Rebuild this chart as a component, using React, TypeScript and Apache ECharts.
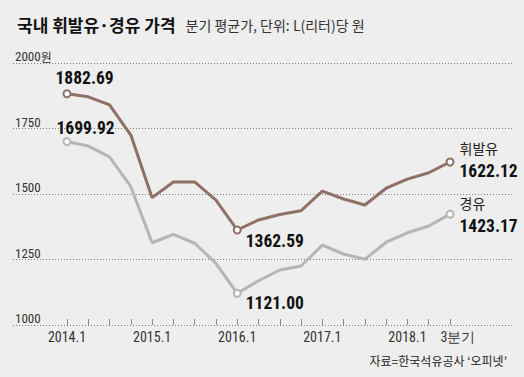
import React, { useEffect, useRef } from "react";
import * as echarts from "echarts";

const quarters = [
  "2014.1", "", "", "",
  "2015.1", "", "", "",
  "2016.1", "", "", "",
  "2017.1", "", "", "",
  "2018.1", "", "3분기",
];
const gasoline = [
  1882.69, 1871, 1840, 1725,
  1486, 1546, 1546, 1477,
  1362.59, 1401, 1422, 1436,
  1511, 1481, 1458, 1522,
  1557, 1581, 1622.12,
];
const diesel = [
  1699.92, 1683, 1642, 1528,
  1314, 1346, 1312, 1235,
  1121.0, 1169, 1210, 1225,
  1305, 1271, 1251, 1316,
  1352, 1378, 1423.17,
];
const yTicks = [1000, 1250, 1500, 1750, 2000];
const seriesNames = ["휘발유", "경유"];

const NUM = "'Liberation Sans Narrow', 'Arial Narrow', 'Roboto Condensed', Roboto, sans-serif";
const KR = "'Noto Sans CJK KR', 'Noto Sans', sans-serif";

const BROWN = "#8d7166";
const GRAY = "#b5b5b5";

function buildData(values: number[], name: string, labelCfg: Record<number, any>) {
  const last = values.length - 1;
  return values.map((v, i) => {
    if (i === 0 || i === last || labelCfg[i]) {
      const isLast = i === last;
      const cfg = labelCfg[i] || {};
      return {
        value: v,
        symbol: "emptyCircle",
        symbolSize: 7,
        label: isLast
          ? {
              show: true,
              position: "right",
              distance: 5,
              offset: cfg.offset || [0, 0],
              formatter: `{n|${name}}\n{v|${v.toFixed(2)}}`,
              rich: {
                n: { fontFamily: KR, fontSize: 14, fontWeight: "normal", color: "#222", lineHeight: 23 },
                v: { fontFamily: NUM, fontSize: 17.5, fontWeight: "bold", color: "#111", lineHeight: 23 },
              },
            }
          : {
              show: true,
              position: "right",
              distance: 0,
              offset: cfg.offset || [0, 0],
              formatter: v.toFixed(2),
              fontFamily: NUM,
              fontSize: 17.5,
              fontWeight: "bold",
              color: "#111",
            },
      };
    }
    return { value: v, symbol: "none" };
  });
}

export default function App() {
  const ref = useRef<HTMLDivElement>(null);

  useEffect(() => {
    if (!ref.current) return;
    const chart = echarts.init(ref.current, null, { renderer: "svg" });

    const gasData = buildData(gasoline, seriesNames[0], {
      0: { offset: [-16, -16] },
      8: { offset: [4, 11] },
      18: { offset: [0, -3] },
    });
    const dieselData = buildData(diesel, seriesNames[1], {
      0: { offset: [-15, -14] },
      8: { offset: [4, 10] },
      18: { offset: [0, 0] },
    });

    const xData = quarters.map((q, i) =>
      i === quarters.length - 1
        ? { value: q, textStyle: { padding: [0, 0, 0, 16] } }
        : q
    );

    chart.setOption({
      animation: false,
      backgroundColor: "#eeeeee",
      title: [
        {
          left: 12,
          top: 11,
          text: "{a|국내 휘발유·경유 가격}{b|분기 평균가, 단위: L(리터)당 원}",
          textStyle: {
            fontWeight: "normal",
            rich: {
              a: { fontFamily: KR, fontSize: 17, fontWeight: "bold", color: "#111" },
              b: { fontFamily: KR, fontSize: 14, fontWeight: "normal", color: "#333", padding: [0, 0, 0, 10] },
            },
          },
        },
        {
          right: 12,
          top: 349,
          text: "자료=한국석유공사 ‘오피넷’",
          textStyle: { fontFamily: KR, fontSize: 12, fontWeight: "normal", color: "#222" },
        },
      ],
      grid: [
        { left: 13, right: 12, top: 63, bottom: 52 },
        { left: 67, right: 74, top: 63, bottom: 52 },
      ],
      xAxis: [
        { type: "value", gridIndex: 0, show: false, min: 0, max: 1 },
        {
          type: "category",
          gridIndex: 1,
          data: xData,
          boundaryGap: false,
          axisLine: { show: false },
          axisTick: {
            show: true,
            inside: true,
            length: 6,
            interval: 0,
            lineStyle: { color: "#8a8a8a", width: 1 },
          },
          axisLabel: {
            interval: 0,
            margin: 5,
            fontFamily: NUM,
            fontSize: 14,
            color: "#333",
          },
          splitLine: { show: false },
        },
      ],
      yAxis: [
        {
          type: "value",
          gridIndex: 0,
          min: yTicks[0],
          max: yTicks[yTicks.length - 1],
          interval: yTicks[1] - yTicks[0],
          axisLine: { show: false },
          axisTick: { show: false },
          axisLabel: {
            inside: true,
            margin: 2,
            align: "left",
            verticalAlign: "bottom",
            fontFamily: NUM,
            fontSize: 13,
            color: "#333",
            formatter: (v: number) => (v === 2000 ? `{n|${v}}{u|원}` : `{n|${v}}`),
            rich: {
              n: { fontFamily: NUM, fontSize: 13, color: "#333" },
              u: { fontFamily: KR, fontSize: 12, color: "#333" },
            },
          },
          splitLine: {
            show: true,
            lineStyle: { color: "#7a7a7a", width: 1, type: [1, 2] },
          },
        },
        {
          type: "value",
          gridIndex: 1,
          min: yTicks[0],
          max: yTicks[yTicks.length - 1],
          show: false,
          splitLine: { show: false },
        },
      ],
      series: [
        {
          name: seriesNames[1],
          type: "line",
          xAxisIndex: 1,
          yAxisIndex: 1,
          data: dieselData,
          symbol: "none",
          showSymbol: true,
          showAllSymbol: true,
          lineStyle: { color: GRAY, width: 3 },
          itemStyle: { color: GRAY, borderWidth: 1.5 },
          emphasis: { disabled: true },
          silent: true,
          z: 2,
        },
        {
          name: seriesNames[0],
          type: "line",
          xAxisIndex: 1,
          yAxisIndex: 1,
          data: gasData,
          symbol: "none",
          showSymbol: true,
          showAllSymbol: true,
          lineStyle: { color: BROWN, width: 3 },
          itemStyle: { color: BROWN, borderWidth: 1.5 },
          emphasis: { disabled: true },
          silent: true,
          z: 3,
        },
      ],
    });

    return () => chart.dispose();
  }, []);

  return (
    <div
      ref={ref}
      style={{ position: "fixed", left: 0, top: 0, width: 524, height: 377 }}
    />
  );
}
